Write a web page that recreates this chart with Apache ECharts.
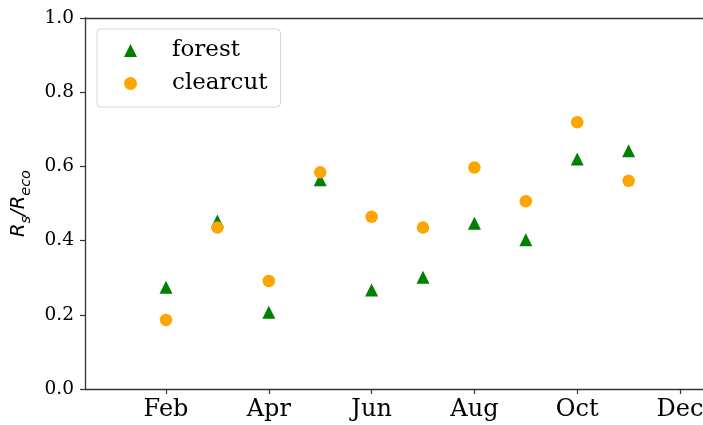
<!DOCTYPE html>
<html>
<head>
<meta charset="utf-8">
<script src="https://cdn.jsdelivr.net/npm/echarts@6/dist/echarts.min.js"></script>
<style>html,body{margin:0;padding:0;background:#fff}#c{width:703px;height:425px}</style>
</head>
<body>
<div id="c"></div>
<script>
const months = [2, 3, 4, 5, 6, 7, 8, 9, 10, 11];
const forest = [0.274, 0.453, 0.207, 0.564, 0.267, 0.301, 0.447, 0.402, 0.620, 0.642];
const clearcut = [0.186, 0.435, 0.291, 0.584, 0.464, 0.435, 0.597, 0.506, 0.719, 0.561];
const tickMonths = [2, 4, 6, 8, 10, 12];
const monthNames = ['Jan','Feb','Mar','Apr','May','Jun','Jul','Aug','Sep','Oct','Nov','Dec'];

const axisColor = '#333';
const xMin = 0.424, xMax = 12.447;
const chart = echarts.init(document.getElementById('c'), null, {renderer: 'canvas'});
chart.setOption({
  animation: false,
  backgroundColor: '#fff',
  grid: {left: 85, top: 18, bottom: 36, right: 0, show: false, containLabel: false, outerBoundsMode: 'none'},
  legend: {
    left: 97, top: 29, orient: 'vertical',
    padding: [10, 13, 12, 27],
    itemGap: 10,
    itemWidth: 13, itemHeight: 13,
    backgroundColor: 'rgba(255,255,255,0.8)',
    borderColor: '#d6d6d6', borderWidth: 1, borderRadius: 4,
    textStyle: {fontFamily: 'DejaVu Serif', fontSize: 23, color: '#000', lineHeight: 23, padding: [0, 0, 0, 30]},
    data: [{name: 'forest', icon: 'triangle'}, {name: 'clearcut', icon: 'circle'}]
  },
  xAxis: [{
    type: 'value', min: xMin, max: xMax,
    splitLine: {show: false},
    axisLine: {show: true, lineStyle: {color: axisColor, width: 1.3}},
    axisTick: {show: true, length: 5, lineStyle: {color: axisColor, width: 1.2}, customValues: tickMonths},
    axisLabel: {fontFamily: 'DejaVu Serif', fontSize: 24, color: '#000', margin: 9, customValues: tickMonths,
      hideOverlap: false, formatter: v => monthNames[Math.round(v) - 1]}
  }, {
    type: 'value', min: xMin, max: xMax, position: 'top',
    splitLine: {show: false},
    axisLine: {show: true, lineStyle: {color: axisColor, width: 1.3}},
    axisTick: {show: false}, axisLabel: {show: false}
  }],
  yAxis: {
    type: 'value', min: 0, max: 1, interval: 0.2,
    splitLine: {show: false},
    axisLine: {show: true, lineStyle: {color: axisColor, width: 1.3}},
    axisTick: {show: true, length: 5, lineStyle: {color: axisColor, width: 1.2}},
    axisLabel: {fontFamily: 'DejaVu Serif', fontSize: 18.5, color: '#000', margin: 11, formatter: v => v.toFixed(1)},
    name: '{i|R}{sub|s}{i|/R}{sub|eco}',
    nameLocation: 'middle', nameRotate: 90, nameGap: 45,
    nameTextStyle: {
      rich: {
        i: {fontFamily: 'DejaVu Sans', fontStyle: 'italic', fontSize: 19.5, color: '#000', verticalAlign: 'bottom', padding: [0, 0, 5, 0]},
        sub: {fontFamily: 'DejaVu Sans', fontStyle: 'italic', fontSize: 14.5, color: '#000', verticalAlign: 'bottom'}
      }
    }
  },
  series: [
    {name: 'forest', type: 'scatter', symbol: 'triangle', symbolSize: 13, xAxisIndex: 0,
      itemStyle: {color: '#008000', opacity: 1}, data: months.map((m, i) => [m, forest[i]]), z: 2},
    {name: 'clearcut', type: 'scatter', symbol: 'circle', symbolSize: 12.5, xAxisIndex: 0,
      itemStyle: {color: '#FFA500', opacity: 1}, data: months.map((m, i) => [m, clearcut[i]]), z: 3}
  ]
});
</script>
</body>
</html>
